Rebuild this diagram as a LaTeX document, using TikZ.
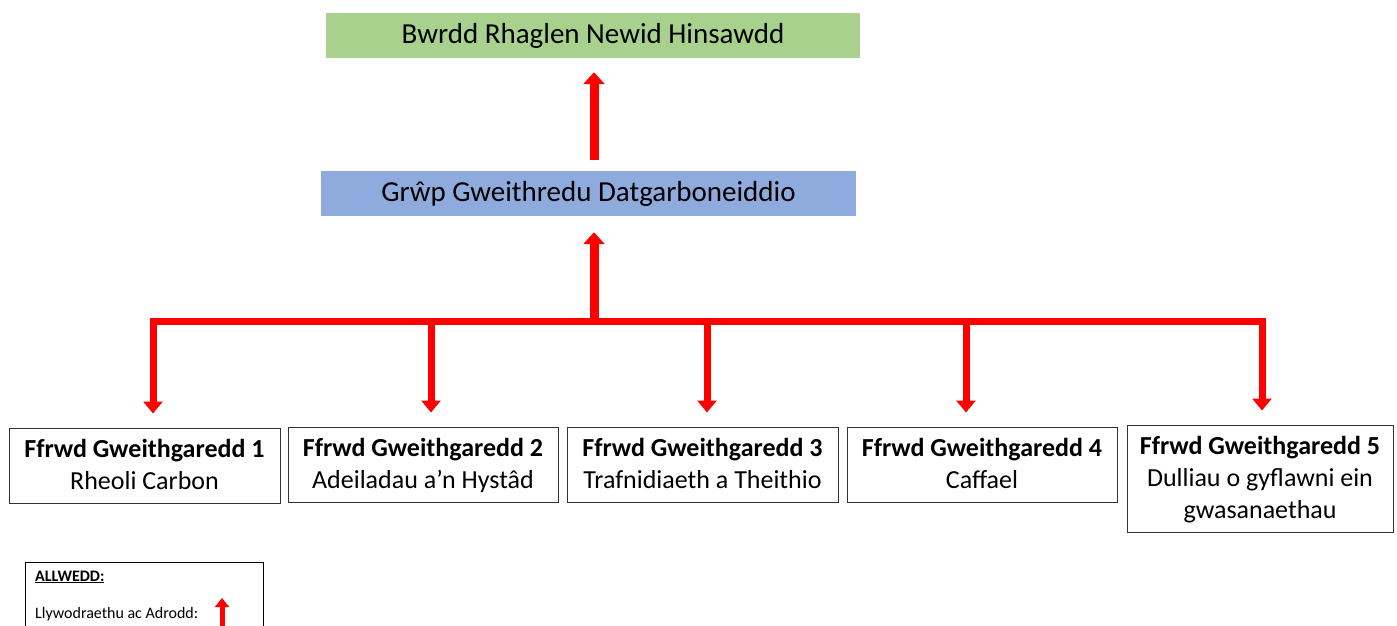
\documentclass[tikz,border=0pt]{standalone}
\usepackage{fontspec}
\setmainfont{Carlito}
\usetikzlibrary{arrows.meta,calc}
\definecolor{boardgreen}{HTML}{A9D18E}
\definecolor{groupblue}{HTML}{8FAADC}
\definecolor{arrred}{HTML}{FF0000}
\newcommand\mytopstrut{\rule{0pt}{22.4pt}}
\newcommand\mybotstrut{\rule[-6pt]{0pt}{6pt}}
\begin{document}
\begin{tikzpicture}[x=1pt,y=-1pt,
  topbox/.style={minimum width=534pt, minimum height=45pt, inner sep=0pt, font=\fontsize{29}{35}\selectfont},
  streambox/.style={draw=black!80, line width=1pt, minimum width=271pt, minimum height=75pt, align=center, inner sep=0pt, font=\fontsize{26}{32}\selectfont},
  uparrow/.style={draw=arrred, line width=9pt, -{Triangle[width=21pt,length=12pt]}},
  downarrow/.style={draw=arrred, line width=7pt, -{Triangle[width=19pt,length=12pt]}},
  barline/.style={draw=arrred, line width=7pt},
  keytext/.style={anchor=west, inner sep=0pt, font=\fontsize{16}{19}\selectfont}
]
\useasboundingbox (0,0) rectangle (1397,625);

\node[topbox, fill=boardgreen] (green) at (593,35.5) {Bwrdd Rhaglen Newid Hinsawdd};
\node[topbox, fill=groupblue, minimum width=535pt] (blue) at (588.5,193.5) {Grŵp Gweithredu Datgarboneiddio};

\node[streambox] (b1) at (144.5,465.5) {\mytopstrut\textbf{Ffrwd Gweithgaredd 1}\\Rheoli Carbon\mybotstrut};
\node[streambox, minimum width=270pt] (b2) at (423,464.5) {\mytopstrut\textbf{Ffrwd Gweithgaredd 2}\\Adeiladau a’n Hystâd\mybotstrut};
\node[streambox] (b3) at (702.5,464.5) {\mytopstrut\textbf{Ffrwd Gweithgaredd 3}\\Trafnidiaeth a Theithio\mybotstrut};
\node[streambox, minimum width=270pt] (b4) at (982,464.5) {\mytopstrut\textbf{Ffrwd Gweithgaredd 4}\\Caffael\mybotstrut};
\node[streambox, minimum width=266pt, minimum height=107pt] (b5) at (1260,478.5) {\mytopstrut\textbf{Ffrwd Gweithgaredd 5}\\Dulliau o gyflawni ein\\gwasanaethau\mybotstrut};

% up arrows
\draw[uparrow, shorten <=11pt, shorten >=14pt] ($(blue.north)+(5.5,0)$) -- ($(green.south)+(1,0)$);
\coordinate (hub) at (594,321);
\draw[uparrow, shorten >=16pt] (hub) -- ($(blue.south)+(5.5,0)$);

% bar
\coordinate (bl) at (149.5,321);
\coordinate (br) at (1265.5,321);
\draw[barline] (bl) -- (br);

% down arrows
\coordinate (d1) at (153,317.5);
\coordinate (d2) at (431,317.5);
\coordinate (d3) at (707,317.5);
\coordinate (d4) at (966,317.5);
\coordinate (d5) at (1262,317.5);
\draw[downarrow, shorten >=14pt] (d1) -- (d1 |- b1.north);
\draw[downarrow, shorten >=14pt] (d2) -- (d2 |- b2.north);
\draw[downarrow, shorten >=14pt] (d3) -- (d3 |- b3.north);
\draw[downarrow, shorten >=14pt] (d4) -- (d4 |- b4.north);
\draw[downarrow, shorten >=14pt] (d5) -- (d5 |- b5.north);

% key
\draw[black, line width=1pt] (25,640) -- (25,562) -- (263,562) -- (263,640);
\node[keytext] (keytitle) at (35,577) {\textbf{\underline{ALLWEDD:}}};
\node[keytext] (keyitem) at (35,614) {Llywodraethu ac Adrodd:};
\coordinate (keyarrowbase) at (222,630);
\coordinate (keyarrowtip) at (222,598);
\draw[draw=arrred, line width=5pt, -{Triangle[width=14pt,length=9pt]}] (keyarrowbase) -- (keyarrowtip);
\end{tikzpicture}
\end{document}
